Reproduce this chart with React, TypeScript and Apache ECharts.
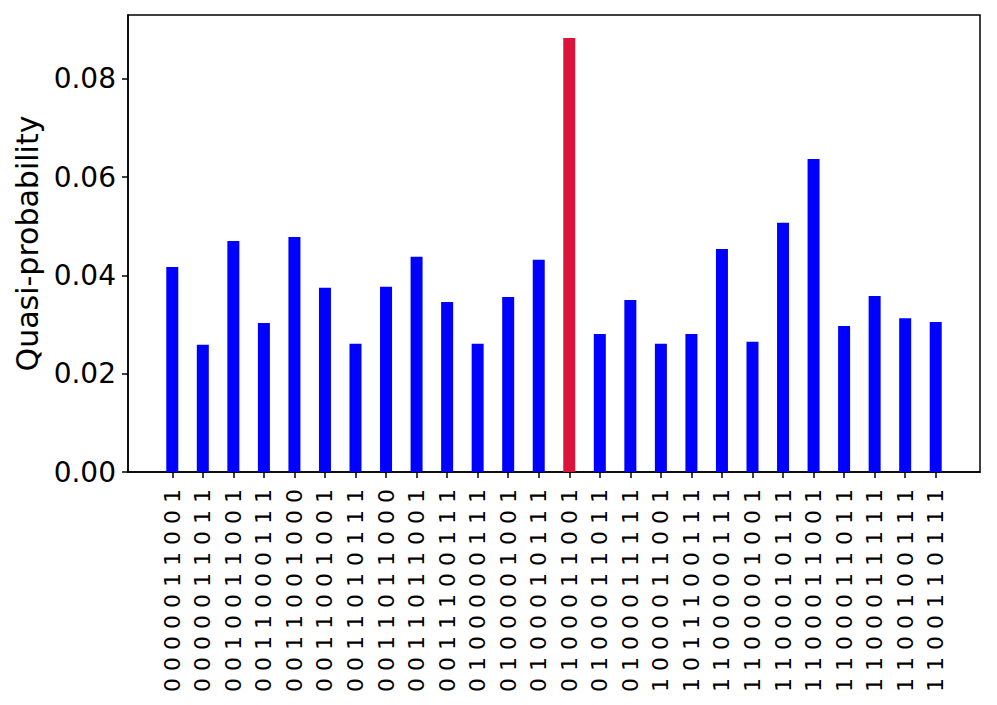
import React, { useEffect, useRef } from "react";
import * as echarts from "echarts";

const bitstrings: string[] = [
  "0000011001", "0000011011", "0010011001", "0011000111", "0011001000",
  "0011001001", "0011010111", "0011011000", "0011011001", "0011100111",
  "0100000111", "0100001001", "0100010111", "0100011001", "0100011011",
  "0100011111", "1000011001", "1011100111", "1100000111", "1100001001",
  "1100010111", "1100011001", "1100011011", "1100011111", "1100100111",
  "1100110111",
];

const quasiProbs: number[] = [
  0.0417, 0.0259, 0.0470, 0.0303, 0.0478, 0.0375, 0.0261, 0.0377, 0.0438,
  0.0346, 0.0261, 0.0356, 0.0432, 0.0883, 0.0281, 0.0350, 0.0261, 0.0281,
  0.0454, 0.0265, 0.0507, 0.0637, 0.0297, 0.0358, 0.0313, 0.0305,
];

const highlighted: string[] = ["0100011001"];

const yTicks: number[] = [0, 0.02, 0.04, 0.06, 0.08];

const FONT = "DejaVu Sans";

export default function App() {
  const ref = useRef<HTMLDivElement>(null);
  useEffect(() => {
    if (!ref.current) return;
    const chart = echarts.init(ref.current, null, { renderer: "svg" });
    const idx = bitstrings.map((_, i) => i);
    chart.setOption({
      animation: false,
      backgroundColor: "#ffffff",
      grid: {
        left: 128,
        top: 15,
        width: 852,
        height: 457,
        show: true,
        borderColor: "#000",
        borderWidth: 1.5,
        backgroundColor: "transparent",
      },
      xAxis: {
        type: "value",
        min: -1.45,
        max: 26.45,
        splitLine: { show: false },
        axisLine: { show: true, onZero: false, lineStyle: { color: "#000", width: 1.5 } },
        axisTick: {
          show: true,
          length: 6,
          customValues: idx,
          lineStyle: { color: "#000", width: 1.5 },
        },
        axisLabel: {
          customValues: idx,
          rotate: 90,
          margin: 17,
          fontFamily: FONT,
          fontSize: 22,
          color: "#000",
          formatter: (v: number) => bitstrings[Math.round(v)].split("").join(" "),
        },
      },
      yAxis: {
        type: "value",
        min: 0,
        max: 0.093,
        name: "Quasi-probability",
        nameLocation: "middle",
        nameGap: 80,
        nameTextStyle: { fontFamily: FONT, fontSize: 30, color: "#000" },
        splitLine: { show: false },
        axisLine: { show: true, onZero: false, lineStyle: { color: "#000", width: 1.5 } },
        axisTick: {
          show: true,
          length: 6,
          customValues: yTicks,
          lineStyle: { color: "#000", width: 1.5 },
        },
        axisLabel: {
          customValues: yTicks,
          margin: 12,
          fontFamily: FONT,
          fontSize: 28,
          color: "#000",
          formatter: (v: number) => v.toFixed(2),
        },
      },
      series: [
        {
          type: "bar",
          barWidth: 12,
          data: quasiProbs.map((v, i) => ({
            value: [i, v],
            itemStyle: {
              color: highlighted.includes(bitstrings[i]) ? "#DC143C" : "#0000FF",
            },
          })),
        },
      ],
    });
    return () => chart.dispose();
  }, []);
  return (
    <div
      ref={ref}
      style={{ position: "fixed", left: 0, top: 0, width: 997, height: 705, background: "#fff" }}
    />
  );
}
